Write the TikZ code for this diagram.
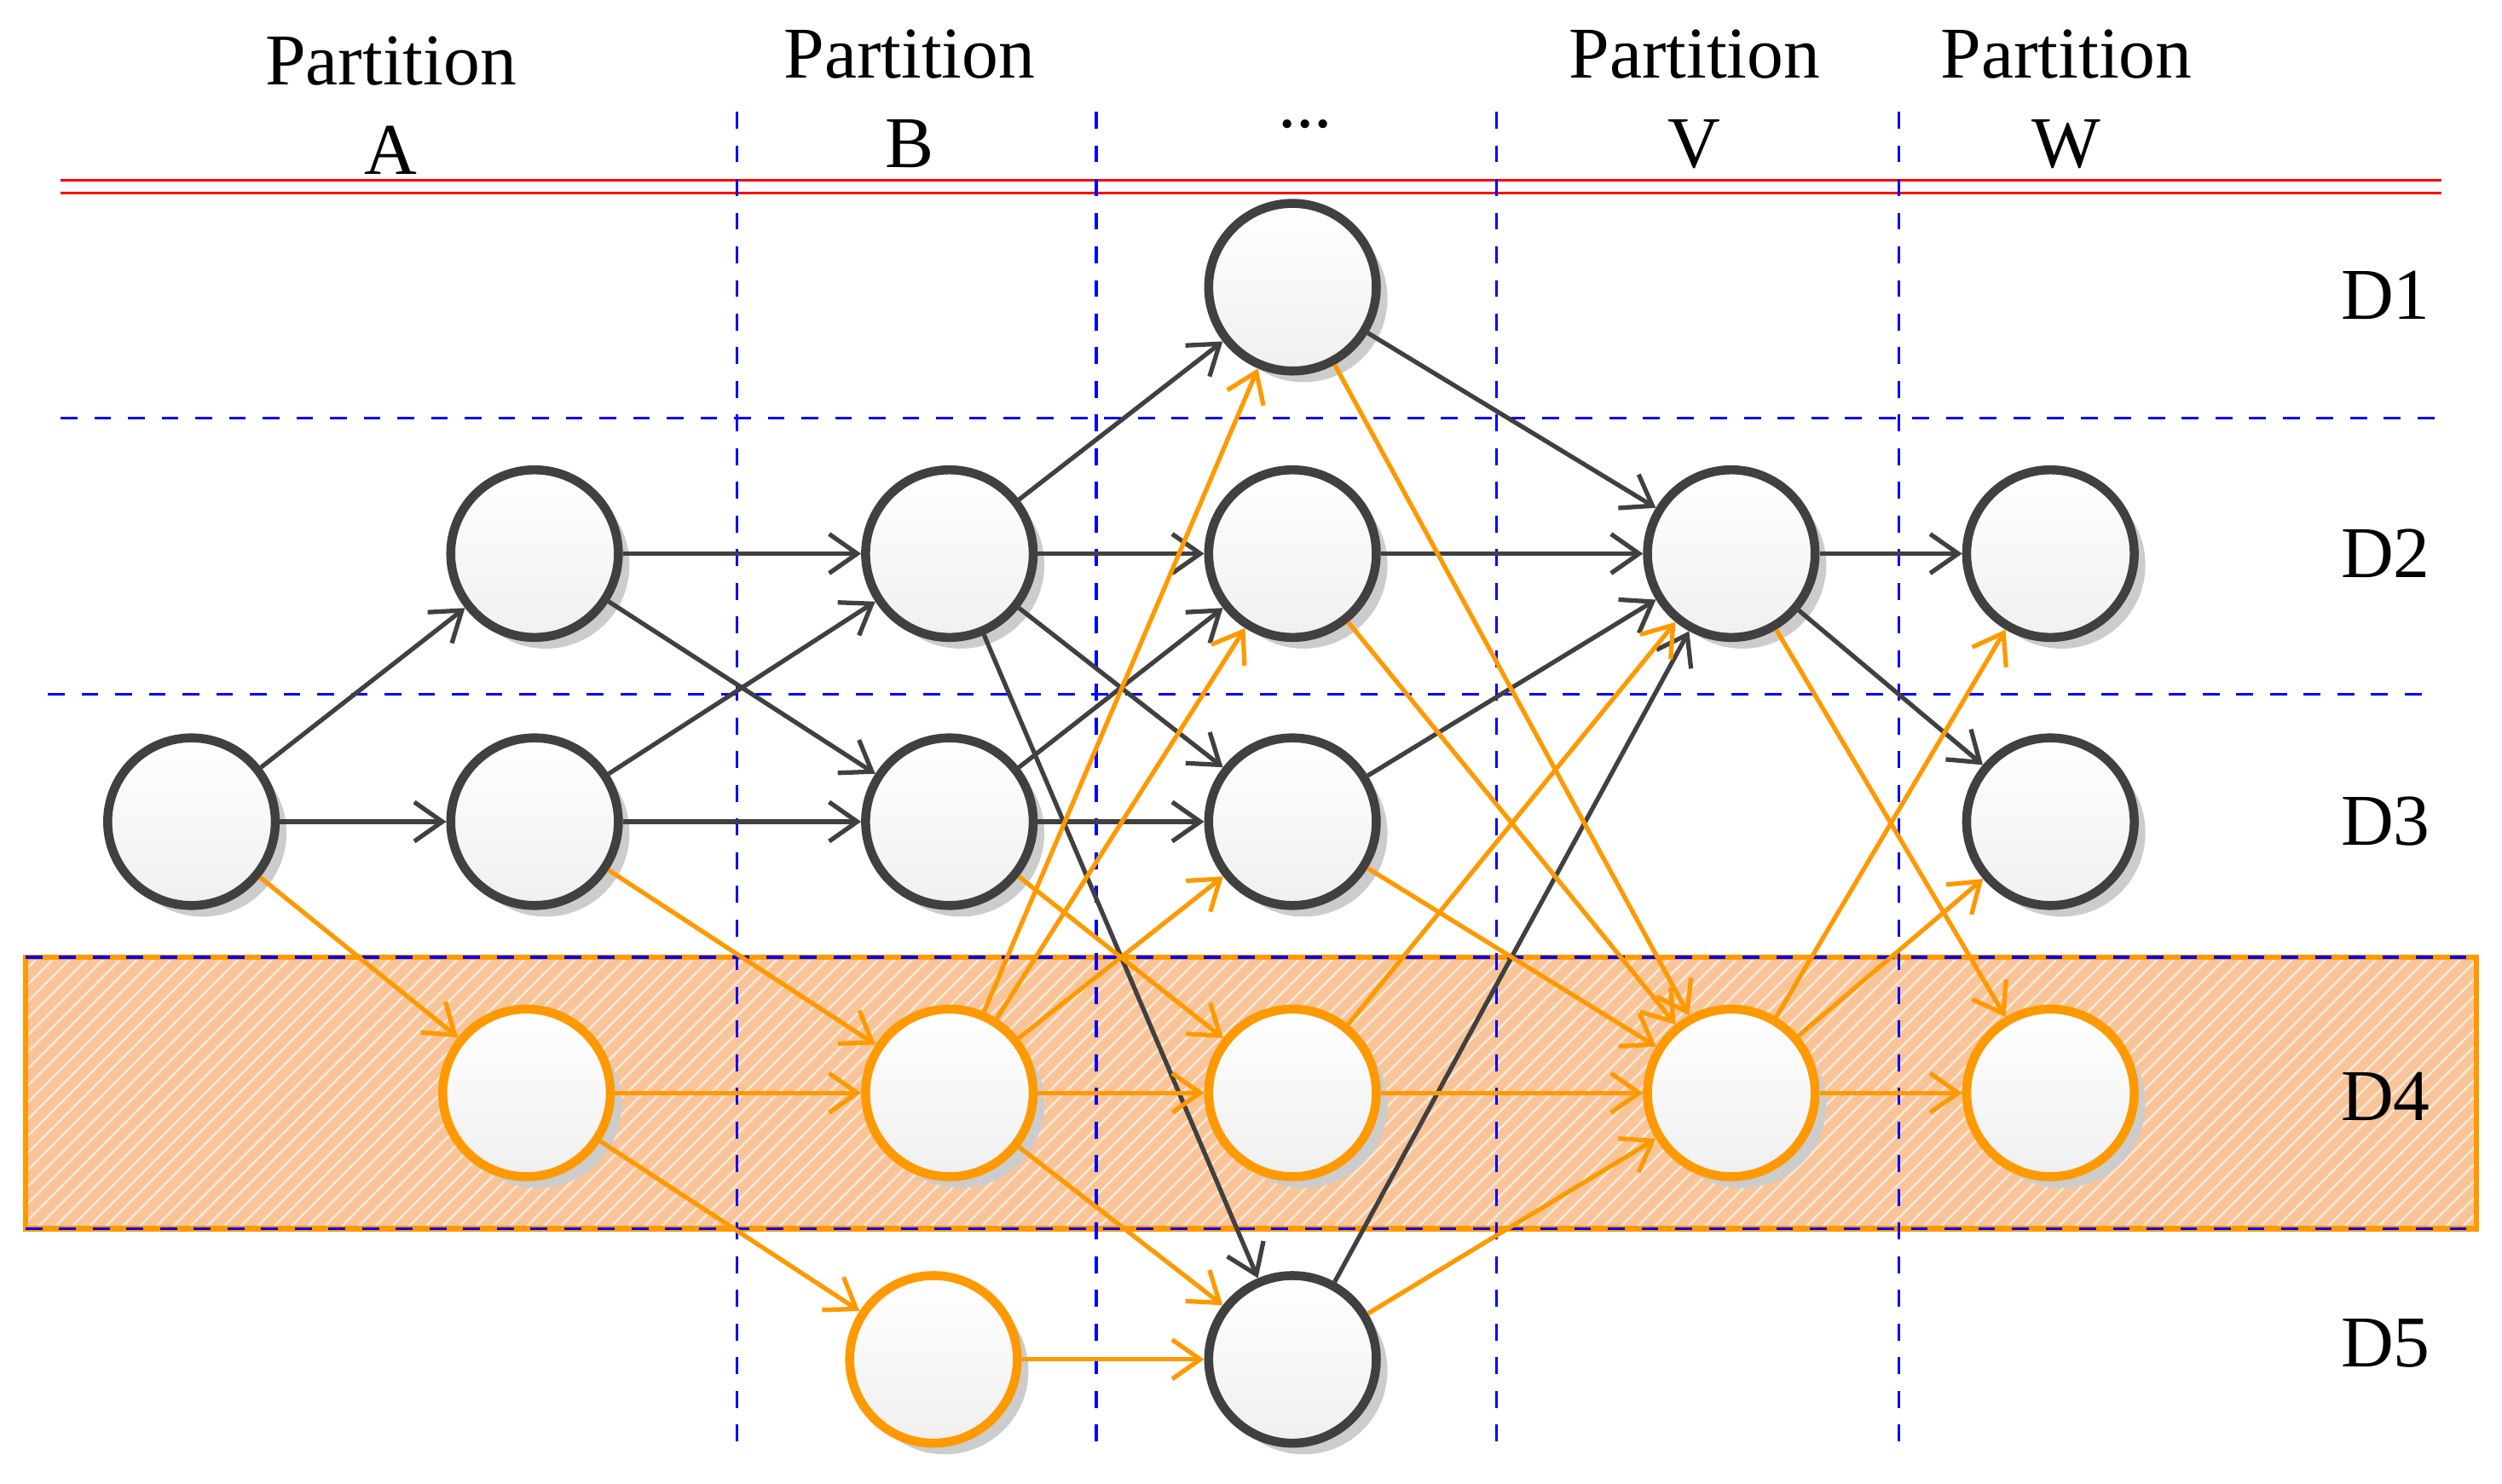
\documentclass[tikz,border=0pt]{standalone}
\usepackage{fontspec}
\setmainfont{Liberation Serif}
\usetikzlibrary{shadows,patterns,arrows.meta}
\definecolor{nodeedge}{RGB}{64,64,64}
\definecolor{hot}{RGB}{255,153,0}
\definecolor{band}{RGB}{248,196,152}

\tikzset{
	vert/.style={circle, minimum size=1.05cm, line width=1.6pt, draw=nodeedge, top color=white, bottom color=gray!12,
		drop shadow={shadow xshift=0.07cm, shadow yshift=-0.07cm, fill=gray!40, opacity=1}},
	hotvert/.style={vert, draw=hot},
	link/.style={line width=0.8pt, draw=nodeedge, -{Straight Barb[length=5pt,width=7pt]}},
	hotlink/.style={link, draw=hot},
	grid/.style={blue, dashed, line width=0.5pt},
	lbl/.style={font=\fontsize{13}{16}\selectfont, align=center}
}

\begin{document}
\begin{tikzpicture}[x=0.01cm, y=-0.01cm]
	\useasboundingbox (0,0) rectangle (1568,930);
	% highlighted row
	\fill[band] (16,600) rectangle (1552,770);
	\fill[pattern=north east lines, pattern color=white!60!band] (16,600) rectangle (1552,770);
	\draw[hot, line width=1pt] (16,600) rectangle (1552,770);
	% grid
	\draw[red, line width=0.6pt] (38,113) -- (1530,113) (38,121) -- (1530,121);
	\draw[grid] (38,262) -- (1530,262);
	\draw[grid] (30,435) -- (1520,435);
	\draw[grid] (16,600) -- (1552,600);
	\draw[grid] (16,770) -- (1552,770);
	\foreach \x in {462, 687, 938, 1190}
		\draw[grid] (\x,70) -- (\x,910);
	% headings
	\node[lbl] at (245,66) {Partition\\A};
	\node[lbl] at (570,62) {Partition\\B};
	\node[lbl] at (818,78) {...};
	\node[lbl] at (1062,62) {Partition\\V};
	\node[lbl] at (1295,62) {Partition\\W};
	\foreach \d/\y in {1/185, 2/347, 3/515, 4/687, 5/842}
		\node[lbl] at (1495,\y) {D\d};
	% vertices
	\node[vert] (s) at (120,515) {};
	\node[vert] (a2) at (335,347) {};
	\node[vert] (a3) at (335,515) {};
	\node[hotvert] (a4) at (330,685) {};
	\node[vert] (b2) at (595,347) {};
	\node[vert] (b3) at (595,515) {};
	\node[hotvert] (b4) at (595,685) {};
	\node[hotvert] (b5) at (585,852) {};
	\node[vert] (c1) at (810,180) {};
	\node[vert] (c2) at (810,347) {};
	\node[vert] (c3) at (810,515) {};
	\node[hotvert] (c4) at (810,685) {};
	\node[vert] (c5) at (810,852) {};
	\node[vert] (v2) at (1085,347) {};
	\node[hotvert] (v4) at (1085,685) {};
	\node[vert] (w2) at (1285,347) {};
	\node[vert] (w3) at (1285,515) {};
	\node[hotvert] (w4) at (1285,685) {};
	% links
	\foreach \u/\v in {s/a2, s/a3, a2/b2, a2/b3, a3/b2, a3/b3, b2/c1, b2/c2, b2/c3, b2/c5, b3/c2, b3/c3,
		c1/v2, c2/v2, c3/v2, c5/v2, v2/w2, v2/w3}
		\draw[link] (\u) -- (\v);
	\foreach \u/\v in {s/a4, a3/b4, a4/b4, a4/b5, b3/c4, b4/c1, b4/c2, b4/c3, b4/c4, b4/c5, b5/c5,
		c1/v4, c2/v4, c3/v4, c4/v2, c4/v4, c5/v4, v2/w4, v4/w2, v4/w3, v4/w4}
		\draw[hotlink] (\u) -- (\v);
\end{tikzpicture}
\end{document}
